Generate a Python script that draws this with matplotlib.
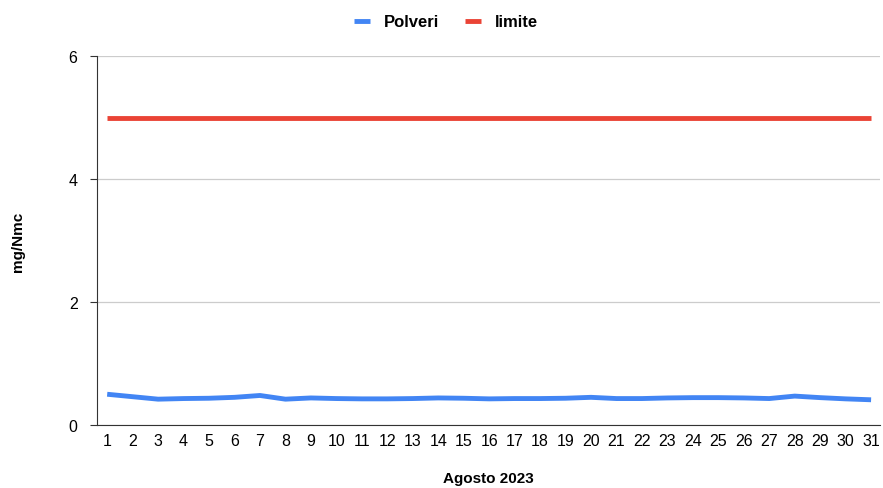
import numpy as np
import matplotlib.pyplot as plt

plt.rcParams['font.family'] = ['Liberation Sans', 'DejaVu Sans']

days = list(range(1, 32))
polveri = [0.50, 0.46, 0.42, 0.43, 0.435, 0.45, 0.48, 0.42, 0.44, 0.43,
           0.425, 0.425, 0.43, 0.44, 0.435, 0.425, 0.43, 0.43, 0.435, 0.45,
           0.43, 0.43, 0.44, 0.445, 0.445, 0.44, 0.43, 0.47, 0.445, 0.425, 0.41]
limite = [5] * 31

fig = plt.figure(figsize=(8.83, 4.89), dpi=100)
ax = fig.add_axes([97/883, 1 - 426/489, 783/883, 369/489])

ax.plot(days, polveri, color='#4285F4', lw=3.5, label='Polveri', solid_capstyle='butt')
ax.plot(days, limite, color='#EA4335', lw=3.5, label='limite', solid_capstyle='butt')

ax.set_xlim(0.6, 31.35)
ax.set_ylim(0, 6)
ax.set_yticks([0, 2, 4, 6])
ax.set_xticks(days)
ax.tick_params(axis='x', length=0, labelsize=11.5, pad=6)
ax.tick_params(axis='y', length=5, labelsize=11.5, pad=9, color='#333333')
ax.grid(axis='y', color='#cccccc', lw=0.9)
ax.set_axisbelow(True)
for s in ['top', 'right']:
    ax.spines[s].set_visible(False)
ax.spines['left'].set_color('#333333')
ax.spines['bottom'].set_color('#333333')

ax.set_ylabel('mg/Nmc', fontsize=11, fontweight='bold', va='center')
ax.yaxis.set_label_coords(-79/783, 0.5)
ax.set_xlabel('Agosto 2023', fontsize=11, fontweight='bold', va='center')
ax.xaxis.set_label_coords(0.5, -(479-426)/369)

fig.legend(loc='upper center', bbox_to_anchor=(0.505, 1.0), ncol=2, frameon=False,
           prop={'weight': 'bold', 'size': 12}, handlelength=0.95, handleheight=0.5,
           columnspacing=1.6, handletextpad=0.8)

fig.savefig('out.png', dpi=100)
